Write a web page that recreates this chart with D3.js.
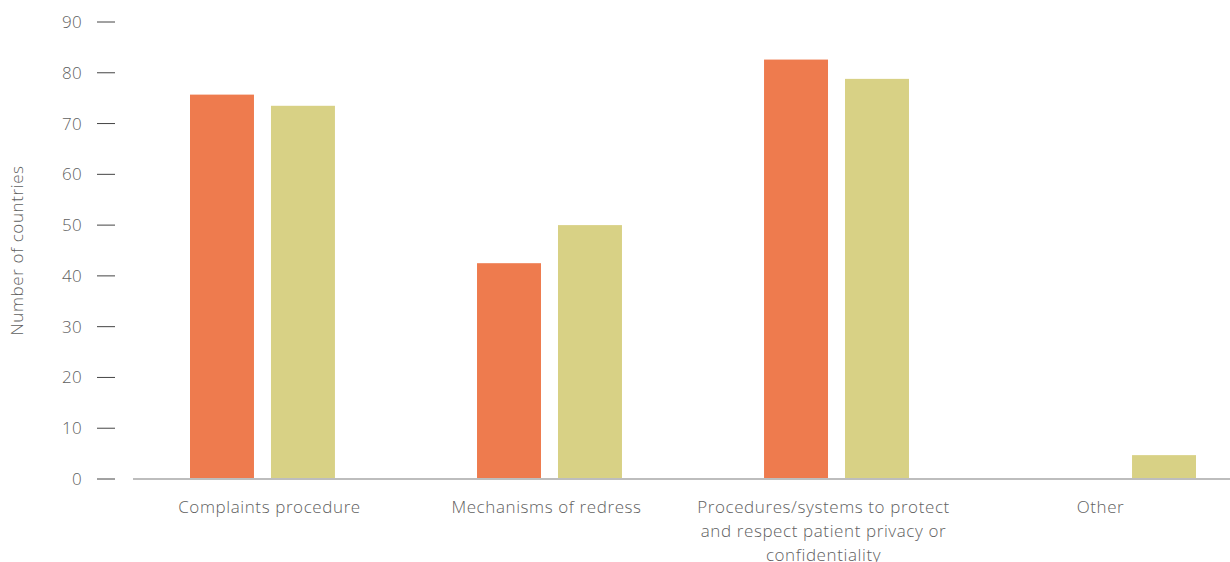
<!DOCTYPE html>
<meta charset="utf-8">
<head>
    <script src="https://d3js.org/d3.v7.min.js"></script>
    <style>
        body { margin: 0; background: #fff; }
        text { font-family: "Open Sans", Lato, sans-serif; font-weight: 300; fill: #5f5f5f; }
    </style>
</head>
<body>
    <div id="chart"></div>
    <script>
        // data
        var categories = ["Complaints procedure", "Mechanisms of redress",
            "Procedures/systems to protect and respect patient privacy or confidentiality", "Other"];
        var labelLines = [["Complaints procedure"], ["Mechanisms of redress"],
            ["Procedures/systems to protect", "and respect patient privacy or", "confidentiality"], ["Other"]];
        var seriesNames = ["Series 1", "Series 2"];
        var series1 = [75.7, 42.5, 82.6, 0];
        var series2 = [73.5, 50, 78.8, 4.7];
        var yTicks = [0, 10, 20, 30, 40, 50, 60, 70, 80, 90];
        var colors = ["#EE7B4E", "#D8D185"];

        var width = 1230, height = 562;

        var svg = d3.select("#chart")
          .append("svg")
            .attr("width", width)
            .attr("height", height);

        var y = d3.scaleLinear()
            .domain([0, 90])
            .range([479, 22]);

        // axis label positions
        var xAxis = d3.scaleBand()
            .domain(categories)
            .range([131, 1239]);

        // bar groups sit slightly to the right of the label bands
        var xGroup = d3.scaleBand()
            .domain(categories)
            .range([190, 1196])
            .paddingInner(0.495)
            .paddingOuter(0);

        var xSub = d3.scaleBand()
            .domain(seriesNames)
            .range([0, xGroup.bandwidth()])
            .paddingInner(0.21);

        var rows = categories.map(function(c, i) {
            return { cat: c, values: [series1[i], series2[i]] };
        });

        // y ticks (dashes + numbers, no axis line)
        var yAxis = svg.append("g").attr("class", "y-axis");
        yAxis.selectAll("line")
            .data(yTicks)
            .enter()
            .append("line")
              .attr("x1", 97).attr("x2", 115)
              .attr("y1", function(d) { return y(d); })
              .attr("y2", function(d) { return y(d); })
              .attr("stroke", "#444")
              .attr("stroke-width", 1);
        yAxis.selectAll("text")
            .data(yTicks)
            .enter()
            .append("text")
              .attr("x", 82)
              .attr("y", function(d) { return y(d); })
              .attr("dy", "0.35em")
              .attr("text-anchor", "end")
              .style("font-size", "17px")
              .style("letter-spacing", "0.3px")
              .text(function(d) { return d; });

        svg.append("text")
            .attr("transform", "translate(23," + y(45) + ") rotate(-90)")
            .attr("text-anchor", "middle")
            .style("font-size", "17px")
            .style("letter-spacing", "0.6px")
            .text("Number of countries");

        // bars
        var groups = svg.append("g")
          .selectAll("g")
          .data(rows)
          .enter()
          .append("g")
            .attr("transform", function(d) { return "translate(" + xGroup(d.cat) + ",0)"; });

        groups.selectAll("rect")
            .data(function(d) { return d.values.map(function(v, i) { return { s: seriesNames[i], v: v, i: i }; }); })
            .enter()
            .append("rect")
              .attr("x", function(d) { return xSub(d.s); })
              .attr("y", function(d) { return y(d.v); })
              .attr("width", xSub.bandwidth())
              .attr("height", function(d) { return y(0) - y(d.v); })
              .attr("fill", function(d) { return colors[d.i]; });

        // baseline
        svg.append("line")
            .attr("x1", 133).attr("x2", width)
            .attr("y1", y(0)).attr("y2", y(0))
            .attr("stroke", "#bdbdbd")
            .attr("stroke-width", 2);

        // category labels
        var lab = svg.append("g")
          .selectAll("text")
          .data(categories)
          .enter()
          .append("text")
            .attr("x", function(d) { return xAxis(d) + xAxis.bandwidth() / 2; })
            .attr("y", 513)
            .attr("text-anchor", "middle")
            .style("font-size", "17px")
            .style("letter-spacing", "0.6px");

        lab.selectAll("tspan")
            .data(function(d, i) { return labelLines[i]; })
            .enter()
            .append("tspan")
              .attr("x", function() { return d3.select(this.parentNode).attr("x"); })
              .attr("dy", function(d, i) { return i === 0 ? 0 : 24; })
              .text(function(d) { return d; });
    </script>
</body>
